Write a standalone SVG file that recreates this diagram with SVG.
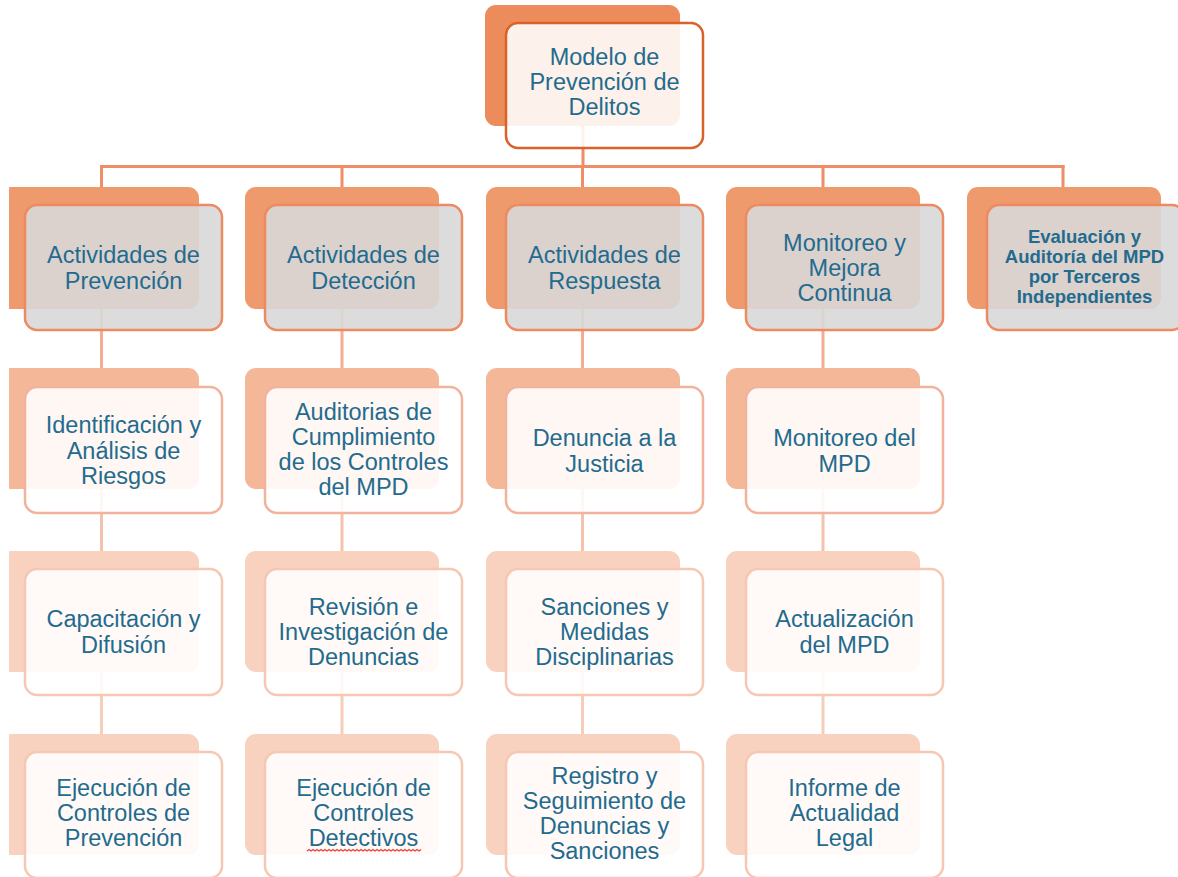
<svg xmlns="http://www.w3.org/2000/svg" width="1178" height="877" viewBox="0 0 1178 877">
<style>
.t{font-family:"Liberation Sans",Arial,sans-serif;font-size:23.5px;fill:#236b8e;text-anchor:middle}
.ts{font-family:"Liberation Sans",Arial,sans-serif;font-size:18.5px;font-weight:bold;fill:#236b8e;text-anchor:middle}
.b0{fill:#ec8c5b}
.f0{fill:#ffffff;fill-opacity:0.88;stroke:#d9622b;stroke-width:2.5}
.b1{fill:#ef9a6d}
.f1{fill:#d8d8d8;fill-opacity:0.9;stroke:#ee8a62;stroke-width:2.5}
.b2{fill:#f4b898}
.f2{fill:#ffffff;fill-opacity:0.88;stroke:#f2b39c;stroke-width:2.5}
.b3{fill:#f8d2bf}
.f3{fill:#ffffff;fill-opacity:0.88;stroke:#f6c7b3;stroke-width:2.5}
.c0{stroke:#ee8d66;stroke-width:3;fill:none}
.c1{stroke:#f2ad92;stroke-width:3;fill:none}
.c2{stroke:#f5c3ad;stroke-width:3;fill:none}
.c3{stroke:#f6cdb9;stroke-width:3;fill:none}
</style>
<defs>
<clipPath id="leftclip"><rect x="9" y="0" width="1169" height="877"/></clipPath>
</defs>
<rect width="1178" height="877" fill="#ffffff"/>
<g id="connectors">
<line class="c0" x1="583" y1="126" x2="583" y2="168"/>
<line class="c0" x1="100" y1="166.5" x2="1064.5" y2="166.5"/>
<line class="c0" x1="101.5" y1="165" x2="101.5" y2="187"/>
<line class="c0" x1="342" y1="165" x2="342" y2="187"/>
<line class="c0" x1="582.5" y1="165" x2="582.5" y2="187"/>
<line class="c0" x1="823" y1="165" x2="823" y2="187"/>
<line class="c0" x1="1063" y1="165" x2="1063" y2="187"/>
<line class="c1" x1="101.5" y1="309" x2="101.5" y2="368"/>
<line class="c1" x1="342" y1="309" x2="342" y2="368"/>
<line class="c1" x1="582.5" y1="309" x2="582.5" y2="368"/>
<line class="c1" x1="823" y1="309" x2="823" y2="368"/>
<line class="c2" x1="101.5" y1="489" x2="101.5" y2="551"/>
<line class="c2" x1="342" y1="489" x2="342" y2="551"/>
<line class="c2" x1="582.5" y1="489" x2="582.5" y2="551"/>
<line class="c2" x1="823" y1="489" x2="823" y2="551"/>
<line class="c3" x1="101.5" y1="672" x2="101.5" y2="734"/>
<line class="c3" x1="342" y1="672" x2="342" y2="734"/>
<line class="c3" x1="582.5" y1="672" x2="582.5" y2="734"/>
<line class="c3" x1="823" y1="672" x2="823" y2="734"/>
</g>

<g id="n-root">
<rect class="b0" x="485" y="5" width="195" height="121" rx="11"/>
<rect class="f0" x="506" y="23" width="197" height="125" rx="12"/>
<text class="t" x="604.5" y="65"><tspan x="604.5">Modelo de</tspan><tspan x="604.5" dy="25">Prevención de</tspan><tspan x="604.5" dy="25">Delitos</tspan></text>
</g>

<g id="n-prev">
<rect class="b1" x="0" y="187" width="199" height="122" rx="11" clip-path="url(#leftclip)"/>
<rect class="f1" x="25" y="205" width="197" height="125" rx="12"/>
<text class="t" x="123.5" y="263"><tspan x="123.5">Actividades de</tspan><tspan x="123.5" dy="25.5">Prevención</tspan></text>
</g>
<g id="n-det">
<rect class="b1" x="245" y="187" width="194" height="122" rx="11"/>
<rect class="f1" x="265" y="205" width="197" height="125" rx="12"/>
<text class="t" x="363.5" y="263"><tspan x="363.5">Actividades de</tspan><tspan x="363.5" dy="25.5">Detección</tspan></text>
</g>
<g id="n-resp">
<rect class="b1" x="486" y="187" width="194" height="122" rx="11"/>
<rect class="f1" x="506" y="205" width="197" height="125" rx="12"/>
<text class="t" x="604.5" y="263"><tspan x="604.5">Actividades de</tspan><tspan x="604.5" dy="25.5">Respuesta</tspan></text>
</g>
<g id="n-mon">
<rect class="b1" x="726" y="187" width="194" height="122" rx="11"/>
<rect class="f1" x="746" y="205" width="197" height="125" rx="12"/>
<text class="t" x="844.5" y="251"><tspan x="844.5">Monitoreo y</tspan><tspan x="844.5" dy="25">Mejora</tspan><tspan x="844.5" dy="25">Continua</tspan></text>
</g>
<g id="n-eval">
<rect class="b1" x="967" y="187" width="194" height="122" rx="11"/>
<rect class="f1" x="987" y="205" width="197" height="125" rx="12"/>
<text class="ts" x="1084.5" y="243"><tspan x="1084.5">Evaluación y</tspan><tspan x="1084.5" dy="20">Auditoría del MPD</tspan><tspan x="1084.5" dy="20">por Terceros</tspan><tspan x="1084.5" dy="20">Independientes</tspan></text>
</g>

<g id="n-riesgos">
<rect class="b2" x="0" y="368" width="199" height="121" rx="11" clip-path="url(#leftclip)"/>
<rect class="f2" x="25" y="387" width="197" height="126" rx="12"/>
<text class="t" x="123.5" y="433"><tspan x="123.5">Identificación y</tspan><tspan x="123.5" dy="25.5">Análisis de</tspan><tspan x="123.5" dy="25.5">Riesgos</tspan></text>
</g>
<g id="n-auditorias">
<rect class="b2" x="245" y="368" width="194" height="121" rx="11"/>
<rect class="f2" x="265" y="387" width="197" height="126" rx="12"/>
<text class="t" x="363.5" y="420"><tspan x="363.5">Auditorias de</tspan><tspan x="363.5" dy="25">Cumplimiento</tspan><tspan x="363.5" dy="25">de los Controles</tspan><tspan x="363.5" dy="25">del MPD</tspan></text>
</g>
<g id="n-denuncia">
<rect class="b2" x="486" y="368" width="194" height="121" rx="11"/>
<rect class="f2" x="506" y="387" width="197" height="126" rx="12"/>
<text class="t" x="604.5" y="446"><tspan x="604.5">Denuncia a la</tspan><tspan x="604.5" dy="25.5">Justicia</tspan></text>
</g>
<g id="n-monmpd">
<rect class="b2" x="726" y="368" width="194" height="121" rx="11"/>
<rect class="f2" x="746" y="387" width="197" height="126" rx="12"/>
<text class="t" x="844.5" y="446"><tspan x="844.5">Monitoreo del</tspan><tspan x="844.5" dy="25.5">MPD</tspan></text>
</g>

<g id="n-capacitacion">
<rect class="b3" x="0" y="551" width="199" height="121" rx="11" clip-path="url(#leftclip)"/>
<rect class="f3" x="25" y="569" width="197" height="126" rx="12"/>
<text class="t" x="123.5" y="627"><tspan x="123.5">Capacitación y</tspan><tspan x="123.5" dy="25.5">Difusión</tspan></text>
</g>
<g id="n-revision">
<rect class="b3" x="245" y="551" width="194" height="121" rx="11"/>
<rect class="f3" x="265" y="569" width="197" height="126" rx="12"/>
<text class="t" x="363.5" y="615"><tspan x="363.5">Revisión e</tspan><tspan x="363.5" dy="25">Investigación de</tspan><tspan x="363.5" dy="25">Denuncias</tspan></text>
</g>
<g id="n-sanciones">
<rect class="b3" x="486" y="551" width="194" height="121" rx="11"/>
<rect class="f3" x="506" y="569" width="197" height="126" rx="12"/>
<text class="t" x="604.5" y="615"><tspan x="604.5">Sanciones y</tspan><tspan x="604.5" dy="25">Medidas</tspan><tspan x="604.5" dy="25">Disciplinarias</tspan></text>
</g>
<g id="n-actualizacion">
<rect class="b3" x="726" y="551" width="194" height="121" rx="11"/>
<rect class="f3" x="746" y="569" width="197" height="126" rx="12"/>
<text class="t" x="844.5" y="627"><tspan x="844.5">Actualización</tspan><tspan x="844.5" dy="25.5">del MPD</tspan></text>
</g>

<g id="n-ejecprev">
<rect class="b3" x="0" y="734" width="199" height="121" rx="11" clip-path="url(#leftclip)"/>
<rect class="f3" x="25" y="752" width="197" height="126" rx="12"/>
<text class="t" x="123.5" y="796"><tspan x="123.5">Ejecución de</tspan><tspan x="123.5" dy="25">Controles de</tspan><tspan x="123.5" dy="25">Prevención</tspan></text>
</g>
<g id="n-ejecdet">
<rect class="b3" x="245" y="734" width="194" height="121" rx="11"/>
<rect class="f3" x="265" y="752" width="197" height="126" rx="12"/>
<text class="t" x="363.5" y="796"><tspan x="363.5">Ejecución de</tspan><tspan x="363.5" dy="25">Controles</tspan><tspan x="363.5" dy="25">Detectivos</tspan></text>
<path d="M307,851 l2,-1.5 l2,1.5 l2,-1.5 l2,1.5 l2,-1.5 l2,1.5 l2,-1.5 l2,1.5 l2,-1.5 l2,1.5 l2,-1.5 l2,1.5 l2,-1.5 l2,1.5 l2,-1.5 l2,1.5 l2,-1.5 l2,1.5 l2,-1.5 l2,1.5 l2,-1.5 l2,1.5 l2,-1.5 l2,1.5 l2,-1.5 l2,1.5 l2,-1.5 l2,1.5 l2,-1.5 l2,1.5 l2,-1.5 l2,1.5 l2,-1.5 l2,1.5 l2,-1.5 l2,1.5 l2,-1.5 l2,1.5 l2,-1.5 l2,1.5 l2,-1.5 l2,1.5 l2,-1.5 l2,1.5 l2,-1.5 l2,1.5 l2,-1.5 l2,1.5 l2,-1.5 l2,1.5 l2,-1.5 l2,1.5 l2,-1.5 l2,1.5 l2,-1.5 l2,1.5 l2,-1.5" fill="none" stroke="#e8403c" stroke-width="1.2"/>
</g>
<g id="n-registro">
<rect class="b3" x="486" y="734" width="194" height="121" rx="11"/>
<rect class="f3" x="506" y="752" width="197" height="126" rx="12"/>
<text class="t" x="604.5" y="784"><tspan x="604.5">Registro y</tspan><tspan x="604.5" dy="25">Seguimiento de</tspan><tspan x="604.5" dy="25">Denuncias y</tspan><tspan x="604.5" dy="25">Sanciones</tspan></text>
</g>
<g id="n-informe">
<rect class="b3" x="726" y="734" width="194" height="121" rx="11"/>
<rect class="f3" x="746" y="752" width="197" height="126" rx="12"/>
<text class="t" x="844.5" y="796"><tspan x="844.5">Informe de</tspan><tspan x="844.5" dy="25">Actualidad</tspan><tspan x="844.5" dy="25">Legal</tspan></text>
</g>
</svg>
